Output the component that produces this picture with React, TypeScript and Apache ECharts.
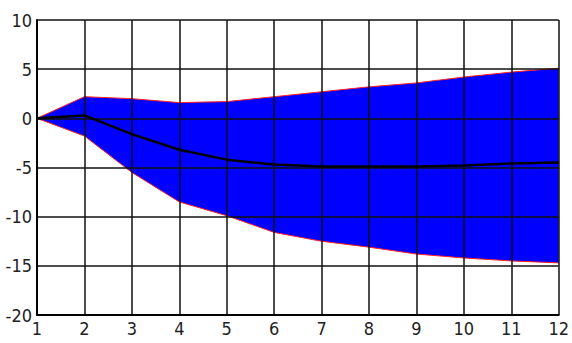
import React, { useEffect, useRef } from "react";
import * as echarts from "echarts";

const periods = ["1", "2", "3", "4", "5", "6", "7", "8", "9", "10", "11", "12"];
const upperBand = [0, 2.2, 2.0, 1.6, 1.7, 2.2, 2.7, 3.2, 3.6, 4.2, 4.7, 5.1];
const centerLine = [0, 0.3, -1.6, -3.2, -4.2, -4.7, -4.9, -4.9, -4.9, -4.8, -4.6, -4.5];
const lowerBand = [0, -1.8, -5.5, -8.5, -9.9, -11.6, -12.5, -13.1, -13.8, -14.2, -14.5, -14.7];

export default function App() {
  const ref = useRef<HTMLDivElement>(null);
  useEffect(() => {
    if (!ref.current) return;
    const chart = echarts.init(ref.current, null, { renderer: "svg" });
    const font = "'Liberation Sans Narrow', 'DejaVu Sans Condensed', Arial, sans-serif";
    chart.setOption({
      animation: false,
      backgroundColor: "#ffffff",
      grid: { left: 37, right: 4, top: 20, bottom: 28 },
      xAxis: {
        type: "category",
        data: periods,
        boundaryGap: false,
        z: 5,
        axisLine: { show: true, onZero: false, lineStyle: { color: "#000", width: 2 } },
        axisTick: { show: false },
        splitLine: { show: true, lineStyle: { color: "#111", width: 1.5 } },
        axisLabel: { color: "#222", fontSize: 18, fontFamily: font, margin: 4, interval: 0 },
      },
      yAxis: {
        type: "value",
        min: -20,
        max: 10,
        interval: 5,
        z: 5,
        axisLine: { show: true, onZero: false, lineStyle: { color: "#000", width: 2 } },
        axisTick: { show: false },
        splitLine: { show: true, lineStyle: { color: "#111", width: 1.5 } },
        axisLabel: { color: "#222", fontSize: 18, fontFamily: font, margin: 5 },
      },
      series: [
        {
          type: "line",
          name: "lower",
          stack: "band",
          stackStrategy: "all",
          data: lowerBand,
          symbol: "none",
          lineStyle: { color: "#ff2020", width: 1 },
          z: 2,
        },
        {
          type: "line",
          name: "band",
          stack: "band",
          stackStrategy: "all",
          data: upperBand.map((u, i) => +(u - lowerBand[i]).toFixed(2)),
          symbol: "none",
          lineStyle: { color: "#ff2020", width: 1 },
          areaStyle: { color: "#0000ff", opacity: 1 },
          z: 2,
        },
        {
          type: "line",
          name: "center",
          data: centerLine,
          symbol: "none",
          lineStyle: { color: "#000000", width: 2.5 },
          z: 6,
        },
      ],
    });
    return () => chart.dispose();
  }, []);
  return (
    <div
      ref={ref}
      style={{ position: "fixed", left: 0, top: 0, width: 572, height: 343 }}
    />
  );
}
